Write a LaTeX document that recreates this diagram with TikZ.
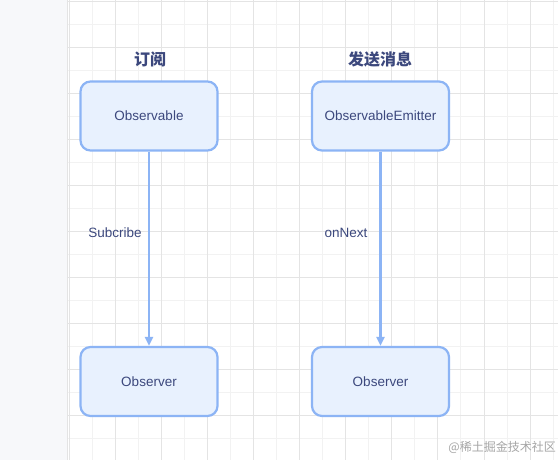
\documentclass[tikz,border=0pt]{standalone}
\usepackage{fontspec}
\setmainfont{Liberation Sans}
\newfontfamily\cjk{Noto Sans CJK SC}
\usetikzlibrary{arrows.meta}
\definecolor{boxline}{RGB}{140,180,245}
\definecolor{boxfill}{RGB}{232,241,254}
\definecolor{txt}{RGB}{60,72,125}
\definecolor{gridmaj}{RGB}{228,228,228}
\definecolor{gridmin}{RGB}{242,242,242}
\definecolor{strip}{RGB}{247,248,250}
\definecolor{wm}{RGB}{165,165,165}
\tikzset{
  box/.style={draw=boxline, fill=boxfill, line width=2.2pt, rounded corners=10pt,
    minimum width=137pt, minimum height=69pt, inner sep=0pt, text=txt,
    font=\fontsize{13.5}{16}\selectfont},
  lbl/.style={text=txt, inner sep=0pt, font=\fontsize{13.5}{16}\selectfont},
  ttl/.style={text=txt, inner sep=0pt, font=\cjk\bfseries\fontsize{16}{19}\selectfont},
  conn/.style={draw=boxline, line width=2.2pt, -{Triangle[length=9pt,width=8pt]}},
}
\begin{document}
\begin{tikzpicture}[x=1pt,y=-1pt]
\useasboundingbox (0,0) rectangle (558,460);
\fill[white] (0,0) rectangle (558,460);
% grid
\foreach \i in {0,...,10} {
  \draw[gridmin, line width=0.8pt] ({69+46.1*\i+23.05},0) -- ({69+46.1*\i+23.05},460);
}
\foreach \j in {0,...,10} {
  \draw[gridmin, line width=0.8pt] (67,{1+46*\j+23}) -- (558,{1+46*\j+23});
}
\foreach \i in {0,...,10} {
  \draw[gridmaj, line width=0.8pt] ({69+46.1*\i},0) -- ({69+46.1*\i},460);
}
\foreach \j in {0,...,10} {
  \draw[gridmaj, line width=0.8pt] (67,{1+46*\j}) -- (558,{1+46*\j});
}
\fill[strip] (0,0) rectangle (67,460);
\draw[gridmaj, line width=1pt] (67,0) -- (67,460);

\node[ttl] (t1) at (150,59) {订阅};
\node[ttl] (t2) at (380,59) {发送消息};

\node[box] (obs) at (149,116) {Observable};
\node[box] (emi) at (380.5,116) {ObservableEmitter};
\node[box] (o1) at (149,381.5) {Observer};
\node[box] (o2) at (380.5,381.5) {Observer};

\draw[conn] (obs) -- (o1);
\draw[conn] (emi) -- (o2);

\node[lbl] (l1) at (115,233) {Subcribe};
\node[lbl] (l2) at (346,233) {onNext};

\node[text=wm, inner sep=0pt, anchor=east, font=\cjk\fontsize{12}{14}\selectfont] (wmk) at (556,447) {@稀土掘金技术社区};
\end{tikzpicture}
\end{document}
